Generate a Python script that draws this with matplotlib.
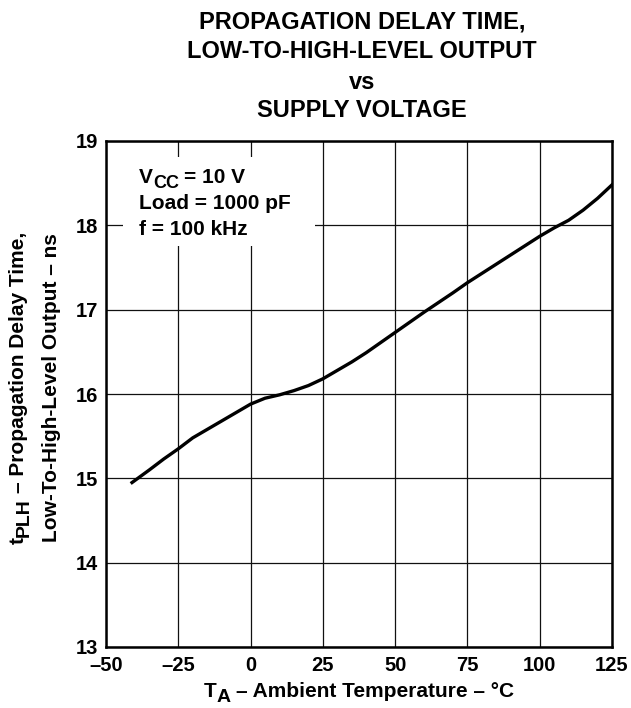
import matplotlib
matplotlib.use("Agg")
import matplotlib.pyplot as plt
from matplotlib.patches import Rectangle
from matplotlib.transforms import IdentityTransform

plt.rcParams['font.family'] = ['Liberation Sans', 'DejaVu Sans']
plt.rcParams['font.weight'] = 'bold'

# Data
temperature = [-41, -35, -30, -25, -20, -15, -10, -5, 0, 5, 10, 15, 20, 25, 30, 35, 40,
               50, 60, 70, 75, 80, 90, 100, 105, 110, 115, 120, 125]
delay_ns = [14.95, 15.10, 15.23, 15.35, 15.48, 15.58, 15.68, 15.78, 15.88, 15.95, 15.99,
            16.04, 16.10, 16.18, 16.28, 16.38, 16.49, 16.73, 16.97, 17.20, 17.32, 17.43,
            17.65, 17.87, 17.97, 18.06, 18.18, 18.32, 18.48]
x_ticks = [-50, -25, 0, 25, 50, 75, 100, 125]
x_tick_labels = ['\u201350', '\u201325', '0', '25', '50', '75', '100', '125']
y_ticks = [13, 14, 15, 16, 17, 18, 19]
title_lines = ['PROPAGATION DELAY TIME,', 'LOW-TO-HIGH-LEVEL OUTPUT', 'vs', 'SUPPLY VOLTAGE']

W, H = 631, 708
fig = plt.figure(figsize=(W / 100, H / 100), dpi=100)
ax = fig.add_axes([106 / W, 1 - 647 / H, (612 - 106) / W, (647 - 141) / H])

ax.set_xlim(-50, 125)
ax.set_ylim(13, 19)
ax.set_xticks(x_ticks)
ax.set_xticklabels(x_tick_labels)
ax.set_yticks(y_ticks)
ax.tick_params(length=0, labelsize=14.5)
ax.tick_params(axis='x', pad=6.5)
ax.tick_params(axis='y', pad=5.5)
for lab in ax.get_xticklabels() + ax.get_yticklabels():
    lab.set_fontweight('bold')
ax.grid(True, color='#111111', linewidth=0.9)
ax.set_axisbelow(True)
for s in ax.spines.values():
    s.set_linewidth(1.8)
    s.set_zorder(5)

# white box behind annotation
ax.add_patch(Rectangle((-44.1, 17.75), 66.3, 1.06, facecolor='white', edgecolor='none', zorder=2))

ax.plot(temperature, delay_ns, color='black', linewidth=2.4, zorder=4)

renderer = fig.canvas.get_renderer()
IDT = IdentityTransform()


def rich(x, y_top, pieces, rotation=0, ha='left'):
    """pieces: (text, size, drop_px, gap_before_px); y_top = baseline (rotation 0)
    or centre along the text (rotation 90), measured from the top of the image."""
    widths = []
    for txt, size, drop, gap in pieces:
        t = fig.text(0, 0, txt, fontsize=size, fontweight='bold', transform=IDT)
        widths.append(t.get_window_extent(renderer).width)
        t.remove()
    total = sum(widths) + sum(p[3] for p in pieces)
    pos = -total / 2 if ha == 'center' else 0
    for (txt, size, drop, gap), w in zip(pieces, widths):
        pos += gap
        if rotation == 0:
            px, py = x + pos, (H - y_top) - drop
        else:
            px, py = x + drop, (H - y_top) + pos
        fig.text(px, py, txt, fontsize=size, fontweight='bold', transform=IDT,
                 ha='left', va='baseline', rotation=rotation, rotation_mode='anchor')
        pos += w


# annotation
rich(139, 183, [('V', 15, 0, 0), ('CC', 13, 4.5, 0), ('= 10 V', 15, 0, 5)])
rich(139, 209, [('Load = 1000 pF', 15, 0, 0)])
rich(139, 235, [('f = 100 kHz', 15, 0, 0)])

# Title
title_base = [28, 58, 89, 117]
for txt, yy in zip(title_lines, title_base):
    fig.text(362, H - yy, txt, fontsize=17, fontweight='bold', ha='center', va='baseline',
             transform=IDT)

# Axis labels
rich(359, 697, [('T', 15, 0, 0), ('A', 14, 5, 0), ('\u2013 Ambient Temperature \u2013 \u00b0C', 15, 0, 5)],
     ha='center')
rich(24, 388, [('t', 15, 0, 0), ('PLH', 14, 5, 0), ('\u2013 Propagation Delay Time,', 15, 0, 5)],
     rotation=90, ha='center')
rich(57, 388, [('Low-To-High-Level Output \u2013 ns', 15, 0, 0)], rotation=90, ha='center')

fig.savefig('out.png', dpi=100)
